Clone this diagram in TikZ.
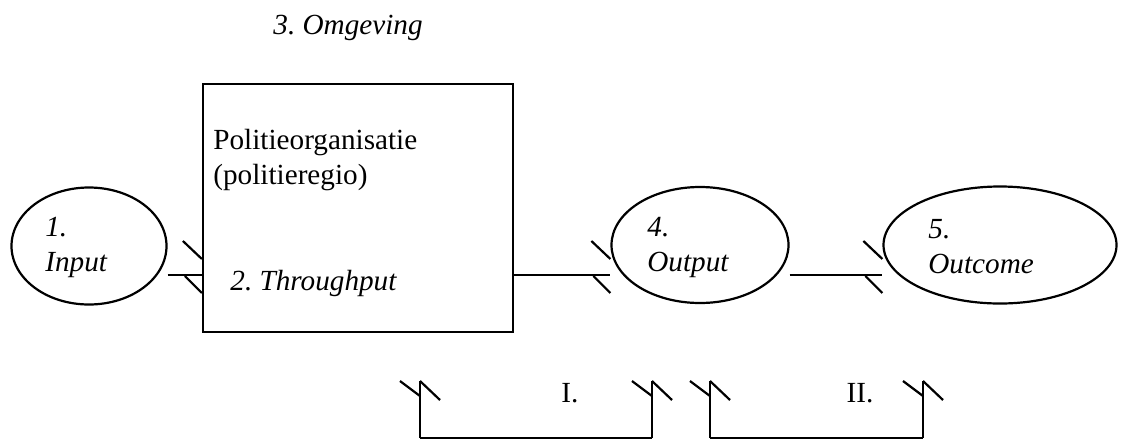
\documentclass[tikz,border=0pt]{standalone}
\usepackage{fontspec}
\setmainfont{Liberation Serif}
\frenchspacing
\usetikzlibrary{shapes.geometric}
\tikzset{
    ring/.style={draw, ellipse, line width=1.1pt, inner sep=0pt},
    txt/.style={anchor=west, inner sep=0pt, align=left, font=\fontsize{14.6}{17.5}\selectfont},
    itxt/.style={txt, font=\fontsize{14.6}{17.5}\selectfont\itshape},
    wire/.style={line width=1.1pt},
}
% two loose strokes in front of an entry point
\newcommand\barbs[1]{
    \draw[wire]([shift={(-19,-34)}]#1)--([shift={(0,-16)}]#1);
    \draw[wire]([shift={(-17,1)}]#1)--([shift={(0,18)}]#1);
}
\begin{document}
\begin{tikzpicture}[x=0.5pt, y=-0.5pt]
\useasboundingbox (0,0) rectangle (1124,440);
\node[itxt] (env) at (273,28) {3. Omgeving};
% system
\node[draw, line width=1.1pt, minimum width=155pt, minimum height=124pt] (org) at (358,208) {};
\node[txt] (orgname) at (213,160) {Politieorganisatie\\(politieregio)};
\node[itxt] (thru) at (230,283) {2. Throughput};
\node[ring, minimum width=77.5pt, minimum height=58.5pt] (in) at (89,246) {};
\node[itxt] (intxt) at (45,247) {1.\\Input};
\node[ring, minimum width=88.5pt, minimum height=58pt] (out) at (700,245) {};
\node[itxt] (outtxt) at (647,247) {4.\\Output};
\node[ring, minimum width=116.5pt, minimum height=58.5pt] (eff) at (1000,245) {};
\node[itxt] (efftxt) at (928,247) {5.\\Outcome};
% flow
\coordinate (lvl) at (0,275);
\coordinate (a) at (org.west |- lvl);
\coordinate (b) at (out.west |- lvl);
\coordinate (c) at (eff.west |- lvl);
\draw[wire](in.east |- lvl)--(a);
\draw[wire](org.east |- lvl)--(b);
\draw[wire](out.east |- lvl)--(c);
\barbs{a}
\barbs{b}
\barbs{c}
% measuring points
\foreach \n/\x in {p1/420, p2/652, p3/710, p4/923}
{
    \coordinate (\n) at (\x,438);
    \draw[wire](\n)--(\x,381);
    \draw[wire](\x-20,381)--(\x,396);
    \draw[wire](\x,381)--(\x+20,400);
}
\draw[wire](p1)--(p2);
\draw[wire](p3)--(p4);
\node[txt, anchor=center] (one) at (570,393) {I.};
\node[txt, anchor=center] (two) at (860,393) {II.};
\end{tikzpicture}
\end{document}
